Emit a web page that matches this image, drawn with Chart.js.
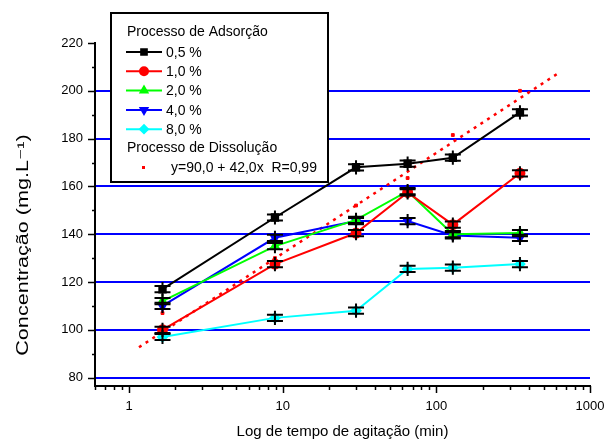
<!DOCTYPE html>
<html>
<head>
<meta charset="utf-8">
<title>Concentração x tempo de agitação</title>
<script src="https://cdn.jsdelivr.net/npm/chart.js@4"></script>
<style>
  body { margin: 0; background: #fff; }
  #wrap { width: 610px; height: 443px; }
</style>
</head>
<body>
<div id="wrap"><canvas id="myChart"></canvas></div>
<script>
  // tempos de agitação (min), lidos no eixo log
  const tempos = [1.65, 8.9, 30, 65, 128, 350];
  // adsorção, concentração (mg/L) para cada teor
  const c05 = [117, 147, 168, 169.5, 172, 191];
  const c10 = [100, 127.5, 140.5, 157.5, 144, 165.5];
  const c20 = [112, 135, 146, 158, 140, 140.5];
  const c40 = [110, 138.5, 145.5, 145.5, 139.5, 138.5];
  const c80 = [97, 105, 108, 125.5, 126, 127.5];
  // dissolução: pontos e reta ajustada (extremos)
  const dissol = [107, 130, 152, 163.5, 181.5, 200];
  const ajusteX = [1.16, 640];
  const ajusteY = [92.7, 207.9];
  const erro = 1.3;

  const xMajor = [1, 10, 100, 1000];
  const xTicks = [0.6, 0.7, 0.8, 0.9];
  for (const d of [1, 10, 100])
    for (let k = 1; k < 10; k++) xTicks.push(k * d);
  xTicks.push(1000);
  const yMajor = [80, 100, 120, 140, 160, 180, 200, 220];

  const FONT = '"Liberation Sans", Arial, "DejaVu Sans", sans-serif';

  function pts(ys) { return tempos.map((t, i) => ({x: t, y: ys[i]})); }

  function serie(label, ys, cor, estilo, rot) {
    return {
      label: label,
      data: pts(ys),
      borderColor: cor,
      backgroundColor: cor,
      pointBackgroundColor: cor,
      pointBorderColor: cor,
      pointStyle: estilo,
      pointRotation: rot || 0,
      pointRadius: 4.5,
      borderWidth: 2,
      tension: 0
    };
  }

  const series = [c05, c10, c20, c40, c80];

  const errorBars = {
    id: 'errorBars',
    afterDatasetsDraw(chart) {
      const ctx = chart.ctx, ys = chart.scales.y;
      ctx.save();
      ctx.strokeStyle = '#000';
      ctx.lineWidth = 2;
      series.forEach((s, i) => {
        chart.getDatasetMeta(i).data.forEach((p, j) => {
          const yt = ys.getPixelForValue(s[j] + erro);
          const yb = ys.getPixelForValue(s[j] - erro);
          ctx.beginPath();
          ctx.moveTo(p.x, yt - 4); ctx.lineTo(p.x, yb + 4);
          ctx.moveTo(p.x - 8, yt); ctx.lineTo(p.x + 8, yt);
          ctx.moveTo(p.x - 8, yb); ctx.lineTo(p.x + 8, yb);
          ctx.stroke();
        });
      });
      ctx.restore();
    }
  };

  // marcas dos eixos (maiores e menores) e titulo do eixo y
  const eixos = {
    id: 'eixos',
    afterDraw(chart) {
      const ctx = chart.ctx, xs = chart.scales.x, ys = chart.scales.y;
      ctx.save();
      ctx.strokeStyle = '#000';
      ctx.lineWidth = 1.5;
      ctx.beginPath();
      for (let v = 80; v <= 220; v += 10) {
        const y = Math.round(ys.getPixelForValue(v)) + 0.5;
        const len = v % 20 === 0 ? 7 : 3;
        ctx.moveTo(ys.right - len, y); ctx.lineTo(ys.right, y);
      }
      xTicks.forEach(v => {
        const x = Math.round(xs.getPixelForValue(v)) + 0.5;
        const len = xMajor.includes(v) ? 7 : 4;
        ctx.moveTo(x, xs.top); ctx.lineTo(x, xs.top + len);
      });
      ctx.stroke();

      // titulo do eixo y, alongado como no original
      ctx.translate(24, 245);
      ctx.rotate(-Math.PI / 2);
      ctx.scale(1.35, 1);
      ctx.font = '16px ' + FONT;
      ctx.fillStyle = '#000';
      ctx.textAlign = 'center';
      ctx.textBaseline = 'middle';
      ctx.fillText('Concentração (mg.L⁻¹)', 0, 0);
      ctx.restore();
    }
  };

  const legenda = {
    id: 'legenda',
    afterDraw(chart) {
      const ctx = chart.ctx;
      ctx.save();
      ctx.fillStyle = '#fff';
      ctx.strokeStyle = '#000';
      ctx.lineWidth = 2;
      ctx.fillRect(111, 13, 217, 169);
      ctx.strokeRect(111, 13, 217, 169);
      ctx.font = '14px ' + FONT;
      ctx.textBaseline = 'middle';
      ctx.textAlign = 'left';
      ctx.fillStyle = '#000';
      ctx.fillText('Processo de Adsorção', 127, 32);
      for (let i = 0; i < 5; i++) {
        const ds = chart.data.datasets[i];
        const y = 52 + i * 19.3;
        ctx.strokeStyle = ds.borderColor;
        ctx.lineWidth = 2;
        ctx.beginPath(); ctx.moveTo(126, y); ctx.lineTo(162, y); ctx.stroke();
        ctx.fillStyle = ds.pointBackgroundColor;
        ctx.strokeStyle = ds.pointBorderColor;
        Chart.helpers.drawPoint(ctx, {pointStyle: ds.pointStyle, radius: 4, rotation: ds.pointRotation, borderWidth: 1}, 144, y);
        ctx.fillStyle = '#000';
        ctx.fillText(ds.label, 166, y + 1);
      }
      ctx.fillText('Processo de Dissolução', 127, 148);
      ctx.fillStyle = '#ff0000';
      ctx.fillRect(142, 166, 3, 3);
      ctx.fillStyle = '#000';
      ctx.fillText('y=90,0 + 42,0x  R=0,99', 171, 168);
      ctx.restore();
    }
  };

  const config = {
    type: 'line',
    data: {
      datasets: [
        serie('0,5 %', c05, '#000000', 'rect'),
        serie('1,0 %', c10, '#ff0000', 'circle'),
        serie('2,0 %', c20, '#00ff00', 'triangle'),
        serie('4,0 %', c40, '#0000ff', 'triangle', 180),
        serie('8,0 %', c80, '#00ffff', 'rectRot'),
        {
          label: 'Dissolução',
          data: pts(dissol),
          showLine: false,
          pointStyle: 'rect',
          pointRadius: 2,
          backgroundColor: '#ff0000',
          borderColor: '#ff0000'
        },
        {
          label: 'Ajuste',
          data: ajusteX.map((x, i) => ({x: x, y: ajusteY[i]})),
          borderColor: '#ff0000',
          borderWidth: 2.5,
          borderDash: [3, 5],
          pointRadius: 0
        }
      ]
    },
    options: {
      responsive: false,
      animation: false,
      layout: { padding: { top: 43, right: 20, left: 0, bottom: 0 } },
      plugins: { legend: { display: false }, tooltip: { enabled: false } },
      scales: {
        x: {
          type: 'logarithmic',
          min: 0.6,
          max: 1000,
          afterBuildTicks: s => { s.ticks = xTicks.map(v => ({value: v})); },
          afterFit: s => { s.height = 57; s.paddingLeft = 0; s.paddingRight = 0; },
          ticks: {
            autoSkip: false,
            maxRotation: 0,
            padding: 13,
            color: '#000',
            font: { family: FONT, size: 13 },
            callback: v => xMajor.includes(v) ? String(v) : ''
          },
          grid: { drawOnChartArea: false, drawTicks: false },
          border: { color: '#000', width: 2 },
          title: {
            display: true,
            text: 'Log de tempo de agitação (min)',
            color: '#000',
            font: { family: FONT, size: 15 },
            padding: { top: 0, bottom: 2 }
          }
        },
        y: {
          min: 76.5,
          max: 220,
          afterBuildTicks: s => { s.ticks = yMajor.map(v => ({value: v})); },
          afterFit: s => { s.width = 95; s.paddingTop = 0; s.paddingBottom = 0; },
          ticks: {
            padding: 12,
            color: '#000',
            font: { family: FONT, size: 13 }
          },
          grid: {
            drawTicks: false,
            lineWidth: 2,
            color: c => (c.tick && c.tick.value <= 200) ? '#0000ff' : 'rgba(0,0,0,0)'
          },
          border: { color: '#000', width: 2 },
          title: { display: false }
        }
      }
    },
    plugins: [errorBars, eixos, legenda]
  };

  const cv = document.getElementById('myChart');
  cv.width = 610;
  cv.height = 443;
  const myChart = new Chart(cv, config);
</script>
</body>
</html>
